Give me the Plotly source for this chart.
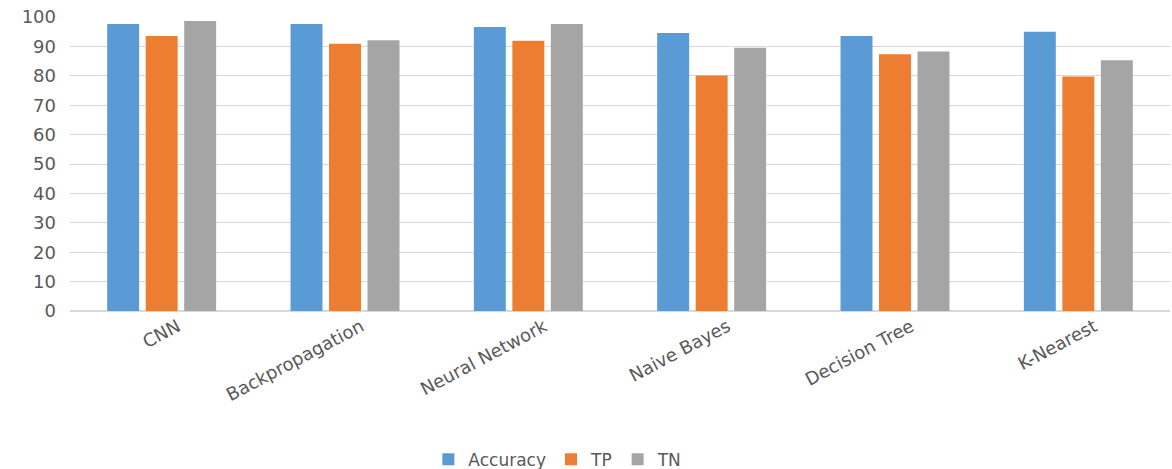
import plotly.graph_objects as go

categories = ["CNN", "Backpropagation", "Neural Network", "Naive Bayes", "Decision Tree", "K-Nearest"]
accuracy = [97.6, 97.6, 96.6, 94.6, 93.5, 95.0]
tp = [93.5, 90.9, 91.9, 80.1, 87.3, 79.8]
tn = [98.6, 92.1, 97.6, 89.5, 88.3, 85.3]
y_ticks = [0, 10, 20, 30, 40, 50, 60, 70, 80, 90, 100]

series = [("Accuracy", accuracy, "#5B9BD5"), ("TP", tp, "#ED7D31"), ("TN", tn, "#A5A5A5")]

fig = go.Figure()
for name, vals, color in series:
    fig.add_trace(go.Bar(name=name, x=categories, y=vals, marker=dict(color=color, line=dict(width=0))))

font_family = "DejaVu Sans, Open Sans, sans-serif"
fig.update_layout(
    width=1172, height=469,
    margin=dict(l=70, r=2, t=17, b=158, autoexpand=False),
    paper_bgcolor="white", plot_bgcolor="white",
    barmode="group", bargap=0.37, bargroupgap=0.17,
    font=dict(family=font_family, color="#595959", size=16),
    showlegend=True,
    legend=dict(orientation="h", xref="container", yref="container",
                x=0.476, xanchor="center", y=0.02, yanchor="middle",
                font=dict(size=17, color="#595959"), itemwidth=30, traceorder="normal"),
)
fig.update_xaxes(tickangle=-28, showgrid=False, showline=False, ticks="", automargin=False,
                 ticklabelshift=16, ticklabelstandoff=1,
                 tickfont=dict(size=18, color="#595959"))
fig.update_yaxes(range=[0, 100], tickvals=y_ticks, showgrid=True, gridcolor="#D9D9D9",
                 gridwidth=1, zeroline=True, zerolinecolor="#D9D9D9", showline=False,
                 automargin=False, ticks="", ticklabelstandoff=13,
                 tickfont=dict(size=18, color="#595959"))

fig.write_html("out.html")
